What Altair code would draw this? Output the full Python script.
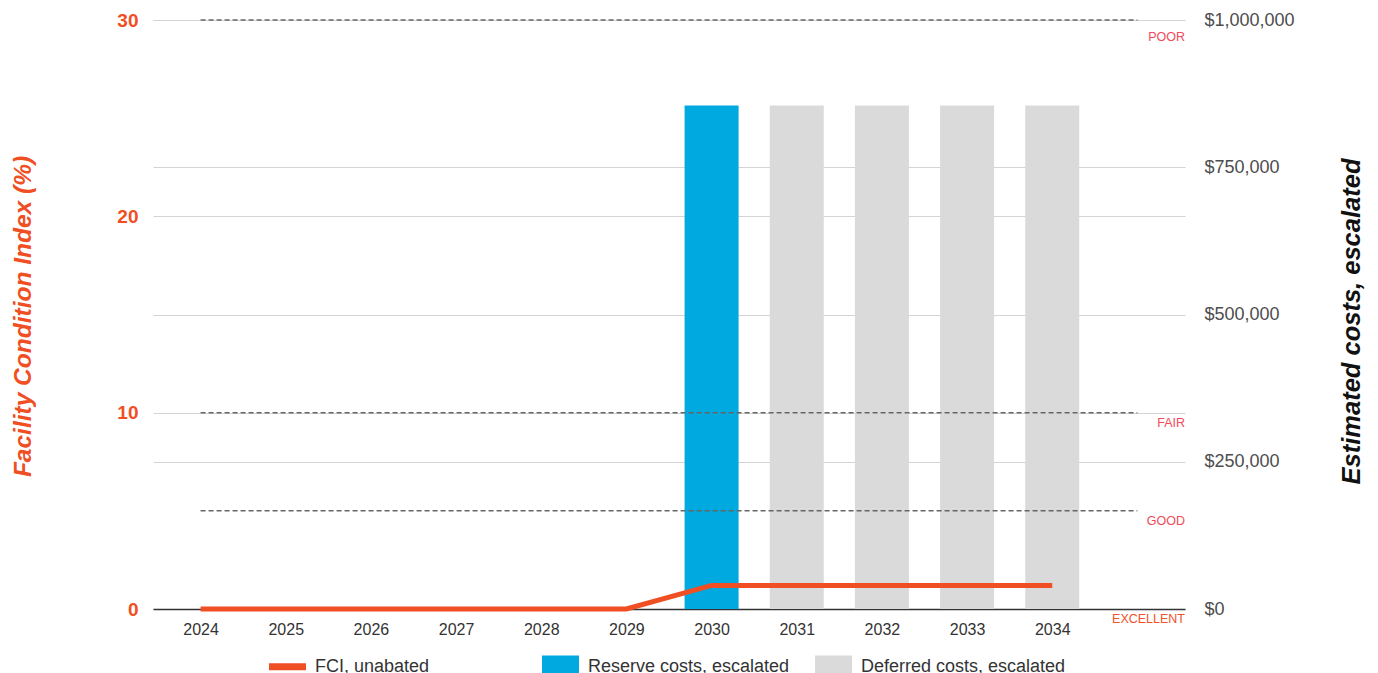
import altair as alt
import pandas as pd

# ---- data -------------------------------------------------------------
years = [2024, 2025, 2026, 2027, 2028, 2029, 2030, 2031, 2032, 2033, 2034]
fci_unabated = [0, 0, 0, 0, 0, 0, 1.2, 1.2, 1.2, 1.2, 1.2]
reserve_costs = [0, 0, 0, 0, 0, 0, 855000, 0, 0, 0, 0]
deferred_costs = [0, 0, 0, 0, 0, 0, 0, 855000, 855000, 855000, 855000]

rating_names = ["POOR", "FAIR", "GOOD", "EXCELLENT"]
rating_levels = [30, 10, 5, 0]

series_names = ["FCI, unabated", "Reserve costs, escalated", "Deferred costs, escalated"]

cost_ticks = [0, 250000, 500000, 750000, 1000000]
fci_ticks = [0, 10, 20, 30]

# ---- styling ----------------------------------------------------------
FONT = "Liberation Sans"
RED = "#F04E23"
RATING_RED = "#F04A5A"
BLUE = "#00A9E0"
GREY = "#DADADA"
GRID = "#D4D4D4"

df = pd.DataFrame({
    "year": years,
    "fci": fci_unabated,
    "reserve": reserve_costs,
    "deferred": deferred_costs,
})
ratings = pd.DataFrame({"rating": rating_names, "level": rating_levels})
legend_df = pd.DataFrame({"series": series_names})

x_scale = alt.Scale(domain=[2023.5, 2035.5], nice=False, zero=False)
x_enc = alt.X(
    "year:Q",
    scale=x_scale,
    axis=alt.Axis(
        values=years, format="d", title=None, grid=False, ticks=False,
        domain=True, domainColor="#333333", domainWidth=1.5,
        labelFontSize=16, labelColor="#333333", labelPadding=12, labelFont=FONT,
    ),
)

# ---- cost bars (right axis) ------------------------------------------
cost_scale = alt.Scale(domain=[0, 1000000], nice=False)
cost_axis = alt.Axis(
    orient="right", values=cost_ticks, format="$,.0f",
    title="Estimated costs, escalated", titleAngle=270,
    titleFontSize=25.5, titleFontStyle="italic", titleFontWeight="bold",
    titleColor="#111111", titleX=166, titleY=301, titleBaseline="middle",
    titleFont=FONT,
    labelFontSize=18, labelColor="#4D4D4D", labelPadding=19, labelFont=FONT,
    grid=True, gridColor=GRID, ticks=False, domain=False,
)

reserve_bars = alt.Chart(df).mark_bar(size=54, color=BLUE).encode(
    x=x_enc,
    y=alt.Y("reserve:Q", scale=cost_scale, axis=cost_axis),
)
deferred_bars = alt.Chart(df).mark_bar(size=54, color=GREY).encode(
    x=alt.X("year:Q", scale=x_scale),
    y=alt.Y("deferred:Q", scale=cost_scale),
)
bars = alt.layer(reserve_bars, deferred_bars)

# ---- FCI layers (left axis) ------------------------------------------
fci_scale = alt.Scale(domain=[0, 30], nice=False)
fci_axis = alt.Axis(
    orient="left", values=fci_ticks, title="Facility Condition Index (%)",
    titleFontSize=24.5, titleFontStyle="italic", titleFontWeight="bold",
    titleColor=RED, titleX=-130, titleY=296, titleBaseline="middle",
    titleAngle=270, titleFont=FONT,
    labelFontSize=19, labelFontWeight="bold", labelColor=RED,
    labelPadding=15, labelFont=FONT,
    grid=True, gridColor=GRID, ticks=False, domain=False,
)

rating_lines = alt.Chart(ratings).transform_filter(
    alt.datum.level > 0
).mark_rule(color="#666666", strokeDash=[5, 3], strokeWidth=1.5).encode(
    x=alt.datum(2024, scale=x_scale),
    x2=alt.datum(2035),
    y=alt.Y("level:Q", scale=fci_scale, axis=fci_axis),
)

poor_label = alt.Chart(ratings).transform_filter(
    alt.datum.rating == "POOR"
).mark_text(align="right", baseline="middle", dx=5, dy=17, fontSize=12.5,
            font=FONT, color=RATING_RED).encode(
    x=alt.datum(2035.5),
    y=alt.Y("level:Q", scale=fci_scale),
    text="rating:N",
)
other_labels = alt.Chart(ratings).transform_filter(
    alt.datum.rating != "POOR"
).mark_text(align="right", baseline="middle", dx=5, dy=10, fontSize=12.5,
            font=FONT).encode(
    x=alt.datum(2035.5),
    y=alt.Y("level:Q", scale=fci_scale),
    text="rating:N",
    color=alt.condition(alt.datum.rating == "EXCELLENT",
                        alt.value("#F0522A"), alt.value(RATING_RED)),
)

fci_line = alt.Chart(df).mark_line(color=RED, strokeWidth=5).encode(
    x=alt.X("year:Q", scale=x_scale),
    y=alt.Y("fci:Q", scale=fci_scale),
)

# legend carrier: invisible points whose color/shape feed the legend.
# Both symbol paths share the same outer extent so entries line up.
line_symbol = "M-1,-0.6M-1,-0.19H1V0.19H-1ZM1,0.6"
box_symbol = "M-1,-0.6H1V0.6H-1Z"
legend_layer = alt.Chart(legend_df).mark_point(filled=True, opacity=0).encode(
    x=alt.value(0),
    y=alt.value(0),
    color=alt.Color(
        "series:N",
        scale=alt.Scale(domain=series_names, range=[RED, BLUE, GREY]),
        legend=alt.Legend(
            title=None, orient="none", direction="horizontal", columns=3,
            legendX=116, legendY=628, padding=0, gridAlign="all",
            columnPadding=22, symbolSize=1369, symbolOpacity=1,
            symbolStrokeWidth=0, labelFontSize=18, labelColor="#333333",
            labelFont=FONT, labelOffset=9, labelLimit=400,
        ),
    ),
    shape=alt.Shape(
        "series:N",
        scale=alt.Scale(domain=series_names,
                        range=[line_symbol, box_symbol, box_symbol]),
        legend=None,
    ),
)

fci_group = alt.layer(rating_lines, poor_label, other_labels, fci_line, legend_layer)

chart = alt.layer(bars, fci_group).resolve_scale(
    y="independent"
).properties(
    width=1032,
    height=589,
    padding={"left": 153, "top": 20, "right": 193, "bottom": 64},
    autosize=alt.AutoSizeParams(type="none"),
    background="white",
).configure_view(stroke=None)

chart.save("out.html", embed_options={"renderer": "svg", "actions": False})
